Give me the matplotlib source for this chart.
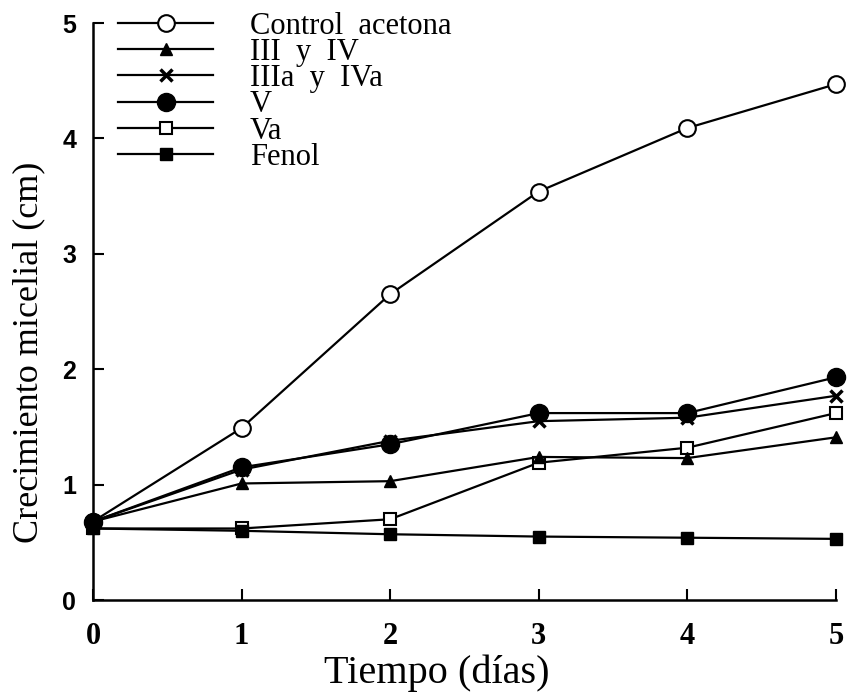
import matplotlib
matplotlib.use('Agg')
import matplotlib.pyplot as plt

days = [0, 1, 2, 3, 4, 5]
control = [0.68, 1.49, 2.65, 3.54, 4.09, 4.47]
iii_iv = [0.68, 1.01, 1.03, 1.24, 1.23, 1.41]
iiia_iva = [0.68, 1.13, 1.38, 1.55, 1.58, 1.77]
v = [0.68, 1.15, 1.35, 1.62, 1.62, 1.93]
va = [0.62, 0.62, 0.70, 1.19, 1.32, 1.62]
fenol = [0.62, 0.60, 0.57, 0.55, 0.54, 0.53]

labels = ['Control  acetona', 'III  y  IV', 'IIIa  y  IVa', 'V', 'Va', 'Fenol']
xticks = [0, 1, 2, 3, 4, 5]
yticks = [0, 1, 2, 3, 4, 5]

serif = 'Liberation Serif'

fig = plt.figure(figsize=(8.49, 6.94), dpi=100)
ax = fig.add_axes([0.1095, 0.1354, 0.875, 0.8314])

lw = 1.6
h_ctrl, = ax.plot(days, control, '-o', color='black', lw=lw, ms=12,
                  mfc='white', mec='black', mew=1.5, clip_on=False, zorder=3)
h_tri, = ax.plot(days, iii_iv, '-^', color='black', lw=lw, ms=8,
                 clip_on=False, zorder=3)
h_x, = ax.plot(days, iiia_iva, '-x', color='black', lw=lw, ms=8, mew=2.5,
               clip_on=False, zorder=3)
h_v, = ax.plot(days, v, '-o', color='black', lw=lw, ms=13,
               clip_on=False, zorder=4)
h_va, = ax.plot(days, va, '-s', color='black', lw=lw, ms=9,
                mfc='white', mec='black', mew=1.5, clip_on=False, zorder=2)
h_fen, = ax.plot(days, fenol, '-s', color='black', lw=lw, ms=9,
                 clip_on=False, zorder=2)

ax.set_xlim(0, 5)
ax.set_ylim(0, 5)
ax.set_xticks(xticks)
ax.set_yticks(yticks)

for s in ['top', 'right']:
    ax.spines[s].set_visible(False)
for s in ['left', 'bottom']:
    ax.spines[s].set_linewidth(1.8)

ax.tick_params(axis='both', direction='in', length=8, width=1.5)
ax.tick_params(axis='x', pad=16)
ax.tick_params(axis='y', pad=12)

for t in ax.get_xticklabels():
    t.set_fontfamily(serif)
    t.set_fontweight('bold')
    t.set_fontsize(22)
for t in ax.get_yticklabels():
    t.set_fontfamily('Liberation Sans')
    t.set_fontweight('bold')
    t.set_fontsize(18)

ax.set_xlabel('Tiempo (días)', fontfamily=serif, fontsize=29)
ax.xaxis.set_label_coords(0.463, -0.095)
ax.set_ylabel('Crecimiento micelial (cm)', fontfamily=serif, fontsize=26)
ax.yaxis.set_label_coords(-0.064, 0.43)

leg = ax.legend([h_ctrl, h_tri, h_x, h_v, h_va, h_fen], labels,
                loc='upper left', bbox_to_anchor=(0.034, 1.02),
                frameon=False, borderpad=0, borderaxespad=0,
                handlelength=3.1, handletextpad=1.2, labelspacing=-0.09,
                prop={'family': serif, 'size': 22})

fig.savefig('out.png', dpi=100)
